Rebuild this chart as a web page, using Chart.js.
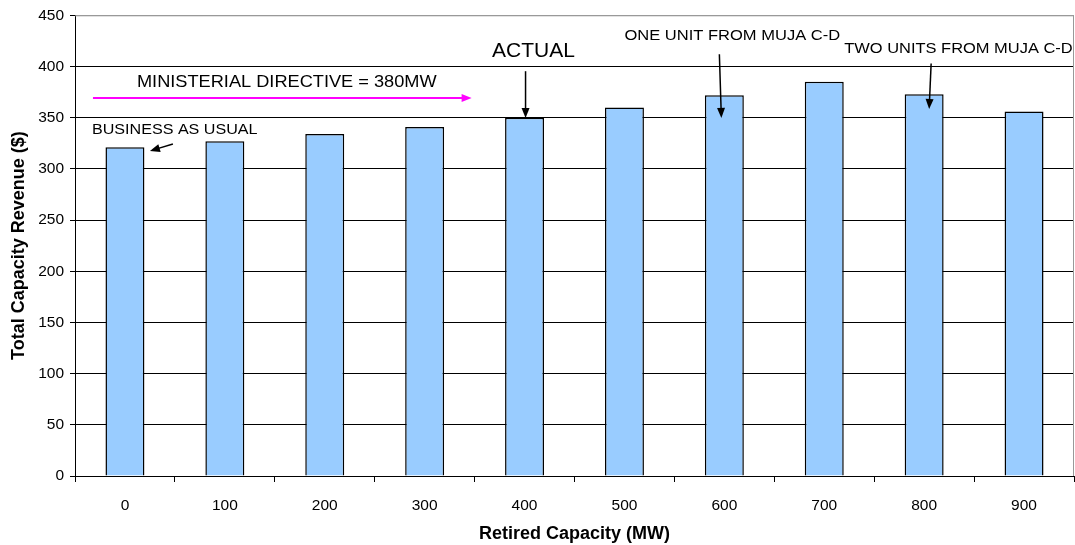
<!DOCTYPE html>
<html>
<head>
<meta charset="utf-8">
<script src="https://cdn.jsdelivr.net/npm/chart.js@4/dist/chart.umd.min.js"></script>
<style>
html,body{margin:0;padding:0;background:#fff;}
#wrap{width:1075px;height:545px;position:relative;}
</style>
</head>
<body>
<div id="wrap"><canvas id="c" width="1075" height="545"></canvas></div>
<script>
const categories = ['0','100','200','300','400','500','600','700','800','900'];
const revenue = [321, 327, 334, 341, 350, 360, 372, 385, 373, 356];
const yTicks = [0, 50, 100, 150, 200, 250, 300, 350, 400, 450];

const FONT = "'Liberation Sans', Arial, sans-serif";

// Annotations placed in data coordinates (category index, value)
const texts = [
  {t:'MINISTERIAL DIRECTIVE = 380MW', x:0.12, y:384.7, size:17, sx:1.07, align:'left'},
  {t:'BUSINESS AS USUAL', x:-0.33, y:338, size:14, sx:1.15, align:'left'},
  {t:'ACTUAL', x:4.09, y:415, size:21, sx:1.0, align:'center'},
  {t:'ONE UNIT FROM MUJA C-D', x:5.0, y:429.5, size:14, sx:1.18, align:'left'},
  {t:'TWO UNITS FROM MUJA C-D', x:7.2, y:417, size:14, sx:1.175, align:'left'}
];
const arrows = [
  {x1:-0.32, y1:369.2, x2:3.47, y2:369.2, color:'#FF00FF', w:2},
  {x1:0.48, y1:324.3, x2:0.25, y2:317.5, color:'#000', w:1.5},
  {x1:4.01, y1:395.4, x2:4.01, y2:349.7, color:'#000', w:1.5},
  {x1:5.95, y1:412, x2:5.97, y2:349.7, color:'#000', w:1.5},
  {x1:8.07, y1:403, x2:8.05, y2:358.5, color:'#000', w:1.5}
];

const annot = {
  id:'annot',
  afterDraw(chart){
    const ctx = chart.ctx, xs = chart.scales.x, ys = chart.scales.y, a = chart.chartArea;
    ctx.save();
    ctx.strokeStyle = '#999'; ctx.lineWidth = 1;
    ctx.beginPath();
    ctx.moveTo(a.left, a.top + 0.5); ctx.lineTo(a.right - 0.5, a.top + 0.5); ctx.lineTo(a.right - 0.5, a.bottom);
    ctx.stroke();
    const px = v => xs.getPixelForValue(v);
    texts.forEach(o => {
      ctx.save();
      ctx.translate(px(o.x), ys.getPixelForValue(o.y));
      ctx.scale(o.sx, 1);
      ctx.font = o.size + 'px ' + FONT;
      ctx.fillStyle = '#000';
      ctx.textAlign = o.align; ctx.textBaseline = 'middle';
      ctx.fillText(o.t, 0, 0);
      ctx.restore();
    });
    arrows.forEach(o => {
      const x1 = px(o.x1), y1 = ys.getPixelForValue(o.y1), x2 = px(o.x2), y2 = ys.getPixelForValue(o.y2);
      const ang = Math.atan2(y2 - y1, x2 - x1), L = 10, W = 4;
      ctx.strokeStyle = o.color; ctx.fillStyle = o.color; ctx.lineWidth = o.w;
      ctx.beginPath(); ctx.moveTo(x1, y1);
      ctx.lineTo(x2 - Math.cos(ang) * L * 0.8, y2 - Math.sin(ang) * L * 0.8); ctx.stroke();
      ctx.beginPath();
      ctx.moveTo(x2, y2);
      ctx.lineTo(x2 - Math.cos(ang) * L - Math.sin(ang) * W, y2 - Math.sin(ang) * L + Math.cos(ang) * W);
      ctx.lineTo(x2 - Math.cos(ang) * L + Math.sin(ang) * W, y2 - Math.sin(ang) * L - Math.cos(ang) * W);
      ctx.closePath(); ctx.fill();
    });
    ctx.restore();
  }
};

new Chart(document.getElementById('c'), {
  type:'bar',
  data:{
    labels:categories,
    datasets:[{
      data:revenue,
      backgroundColor:'#99CCFF',
      borderColor:'#000',
      borderWidth:1.5,
      barPercentage:0.39,
      categoryPercentage:1.0
    }]
  },
  options:{
    responsive:false,
    animation:false,
    devicePixelRatio:1,
    layout:{padding:{top:13,right:1,left:0,bottom:0}},
    plugins:{legend:{display:false}, tooltip:{enabled:false}},
    scales:{
      x:{
        offset:true,
        grid:{display:true, drawOnChartArea:false, drawTicks:true, tickLength:6, color:'#000', offset:true},
        border:{display:true, color:'#000', width:1},
        ticks:{color:'#000', font:{family:FONT, size:15.5}, padding:14, maxRotation:0},
        title:{display:true, text:'Retired Capacity (MW)', color:'#000', font:{family:FONT, size:18, weight:'bold'}, padding:{top:0,bottom:0}},
        afterFit: s => { s.height = 69; }
      },
      y:{
        min:0, max:450,
        afterBuildTicks: s => { s.ticks = yTicks.map(v => ({value:v})); },
        grid:{color: c => (c.tick && c.tick.value === 450) ? '#999' : '#000', lineWidth:1, drawTicks:true, tickLength:5, tickColor:'#000'},
        border:{display:true, color:'#000', width:1},
        ticks:{color:'#000', font:{family:FONT, size:15.5}, padding:6},
        title:{display:true, text:'Total Capacity Revenue ($)', color:'#000', font:{family:FONT, size:18, weight:'bold'}, padding:{top:8,bottom:0}},
        afterFit: s => { s.width = 75; }
      }
    }
  },
  plugins:[annot]
});
</script>
</body>
</html>
